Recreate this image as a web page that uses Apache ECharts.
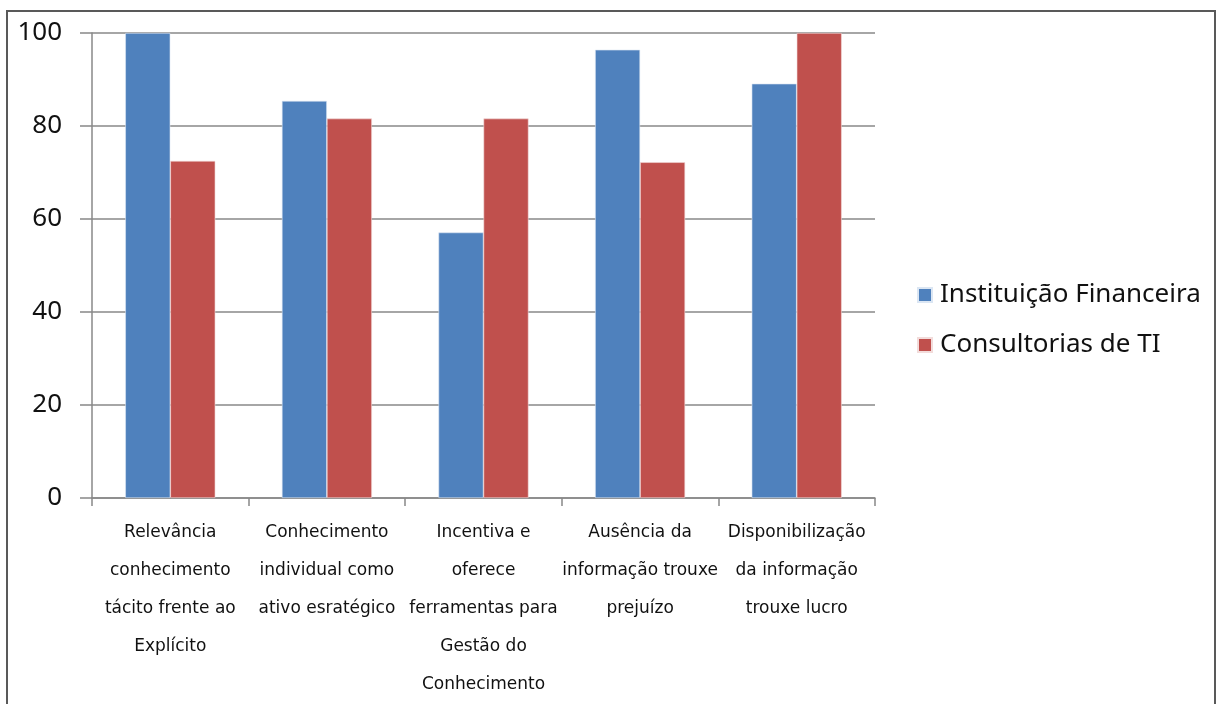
<!DOCTYPE html>
<html>
<head>
<meta charset="utf-8">
<script src="https://cdn.jsdelivr.net/npm/echarts@6/dist/echarts.min.js"></script>
<style>
  html, body { margin: 0; padding: 0; background: #fff; overflow: hidden; }
  #chart { width: 1220px; height: 704px; }
</style>
</head>
<body>
<div id="chart"></div>
<script>
// Categories (multi-line axis labels)
const categories = [
  'Relevância\nconhecimento\ntácito frente ao\nExplícito',
  'Conhecimento\nindividual como\nativo esratégico',
  'Incentiva e\noferece\nferramentas para\nGestão do\nConhecimento',
  'Ausência da\ninformação trouxe\nprejuízo',
  'Disponibilização\nda informação\ntrouxe lucro'
];
const seriesNames = ['Instituição Financeira', 'Consultorias de TI'];
const instituicaoFinanceira = [100, 85.4, 57.1, 96.4, 89.1];
const consultoriasTI = [72.5, 81.6, 81.6, 72.2, 100];
const yTicks = { min: 0, max: 100, interval: 20 };

const chart = echarts.init(document.getElementById('chart'));
chart.setOption({
  animation: false,
  backgroundColor: '#ffffff',
  graphic: [{
    type: 'rect',
    shape: { x: 7, y: 11, width: 1208, height: 710 },
    style: { fill: 'none', stroke: '#595959', lineWidth: 2 },
    silent: true,
    z: -1
  }],
  grid: { left: 92, right: 345, top: 33, bottom: 200, containLabel: false },
  legend: {
    orient: 'vertical',
    left: 912,
    top: 277,
    itemWidth: 14,
    itemHeight: 14,
    itemGap: 24,
    icon: 'rect',
    textStyle: { fontFamily: 'Noto Sans', fontSize: 26, color: '#111111', padding: [0, 0, 0, 3] },
    data: seriesNames
  },
  xAxis: {
    type: 'category',
    data: categories,
    axisLine: { lineStyle: { color: '#888888', width: 1.5 } },
    axisTick: { show: true, length: 8, alignWithLabel: false, lineStyle: { color: '#888888', width: 1.5 } },
    axisLabel: {
      interval: 0,
      margin: 16,
      fontFamily: 'DejaVu Sans',
      fontSize: 17,
      lineHeight: 38,
      color: '#111111',
      align: 'center'
    }
  },
  yAxis: {
    type: 'value',
    min: yTicks.min,
    max: yTicks.max,
    interval: yTicks.interval,
    axisLine: { show: true, lineStyle: { color: '#888888', width: 1.5 } },
    axisTick: { show: true, length: 12, inside: false, lineStyle: { color: '#888888', width: 1.5 } },
    splitLine: { lineStyle: { color: '#888888', width: 1.5 } },
    axisLabel: { margin: 30, fontFamily: 'Noto Sans', fontSize: 26, color: '#111111' }
  },
  series: [
    {
      name: seriesNames[0],
      type: 'bar',
      data: instituicaoFinanceira,
      barGap: '0%',
      barCategoryGap: '42.5%',
      itemStyle: { color: '#4f81bd', borderColor: '#dbe6f3', borderWidth: 0.6 }
    },
    {
      name: seriesNames[1],
      type: 'bar',
      data: consultoriasTI,
      barGap: '0%',
      barCategoryGap: '42.5%',
      itemStyle: { color: '#c0504d', borderColor: '#f2dcdb', borderWidth: 0.6 }
    }
  ]
});
</script>
</body>
</html>
